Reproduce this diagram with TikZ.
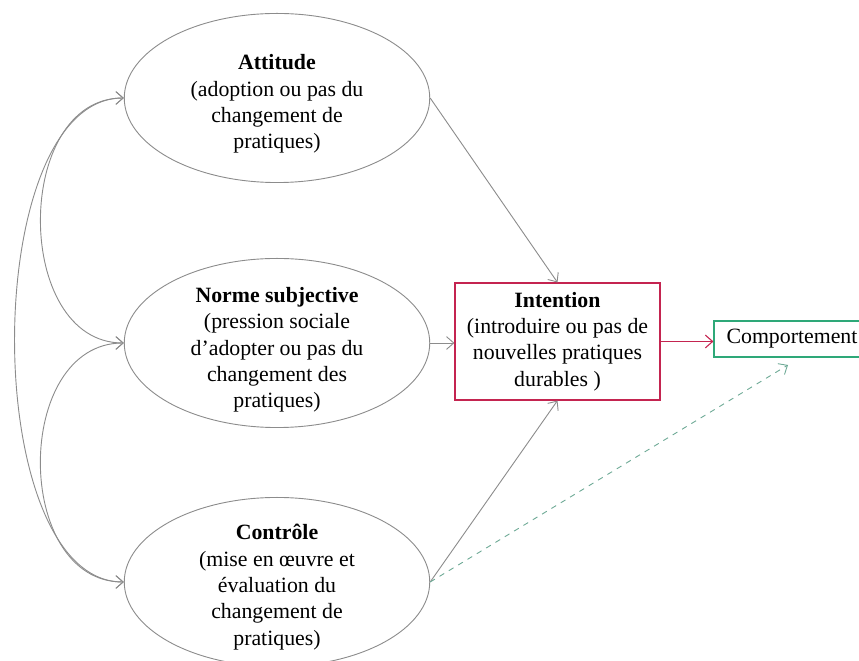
\documentclass[tikz,border=0pt]{standalone}
\usepackage{fontspec}
\setmainfont{Liberation Serif}
\usetikzlibrary{shapes.geometric,arrows.meta}

\definecolor{linegray}{RGB}{140,140,140}
\definecolor{boxred}{RGB}{196,36,80}
\definecolor{boxgreen}{RGB}{46,168,120}
\definecolor{dashgreen}{RGB}{110,170,150}

\tikzset{
  oval/.style={draw=linegray, line width=0.5pt, ellipse, minimum width=168pt, minimum height=93pt, inner sep=0pt},
  ovaltext/.style={align=center, inner sep=0pt, font=\fontsize{12}{14.5}\selectfont},
  intbox/.style={draw=boxred, line width=0.6pt, align=center, inner sep=0pt, minimum width=112.75pt, minimum height=64.35pt, font=\fontsize{12}{14.5}\selectfont},
  compbox/.style={draw=boxgreen, line width=0.6pt, inner sep=0pt, minimum width=85.8pt, minimum height=19.8pt, font=\fontsize{12}{14.5}\selectfont},
  link/.style={draw=linegray, line width=0.5pt, -{Straight Barb[length=4pt,width=7pt]}},
  bilink/.style={draw=linegray, line width=0.5pt, {Straight Barb[length=4pt,width=7pt]}-{Straight Barb[length=4pt,width=7pt]}},
  redlink/.style={draw=boxred, line width=0.6pt, -{Straight Barb[length=4pt,width=7pt]}},
  dashlink/.style={draw=dashgreen, line width=0.5pt, dashed, -{Straight Barb[length=4pt,width=7pt]}}
}

\begin{document}
\begin{tikzpicture}[x=0.55pt,y=0.55pt,yscale=-1,xscale=1]
        \useasboundingbox (0,0) rectangle (859,661);
        \clip (0,0) rectangle (859,661);

        %Shape: Ellipse [id:attitude]
        \node[oval] (att) at (277,98) {};
        \node[ovaltext] (atttext) at (277,104) {\textbf{Attitude}\\(adoption ou pas du\\changement de\\pratiques)};
        %Shape: Ellipse [id:norme]
        \node[oval] (norme) at (277,343) {};
        \node[ovaltext] (normetext) at (277,350) {\textbf{Norme subjective}\\(pression sociale\\d’adopter ou pas du\\changement des\\pratiques)};
        %Shape: Ellipse [id:controle]
        \node[oval] (ctrl) at (277,582) {};
        \node[ovaltext] (ctrltext) at (277,587) {\textbf{Contrôle}\\(mise en œuvre et\\évaluation du\\changement de\\pratiques)};

        %Shape: Rectangle [id:intention]
        \node[intbox] (int) at (557.5,341.5) {\textbf{Intention}\\(introduire ou pas de\\nouvelles pratiques\\durables )};
        %Shape: Rectangle [id:comportement]
        \node[compbox] (comp) at (792,339) {Comportement};
        \coordinate (dashend) at (788,365);

        %Straight Lines [id:toward intention]
        \draw[link] (att.east) -- (int.north);
        \draw[link] (norme.east) -- (norme.east -| int.west);
        \draw[link] (ctrl.east) -- (int.south);
        %Straight Lines [id:toward comportement]
        \draw[redlink] (int.east) -- (int.east -| comp.west);
        \draw[dashlink] (ctrl.east) -- (dashend);

        %Curve Lines [id:correlations]
        \draw[bilink] (att.west) to[out=180,in=180,looseness=1.16] (norme.west);
        \draw[bilink] (norme.west) to[out=180,in=180,looseness=1.19] (ctrl.west);
        \draw[bilink] (att.west) to[out=180,in=180,looseness=0.77] (ctrl.west);
\end{tikzpicture}
\end{document}
